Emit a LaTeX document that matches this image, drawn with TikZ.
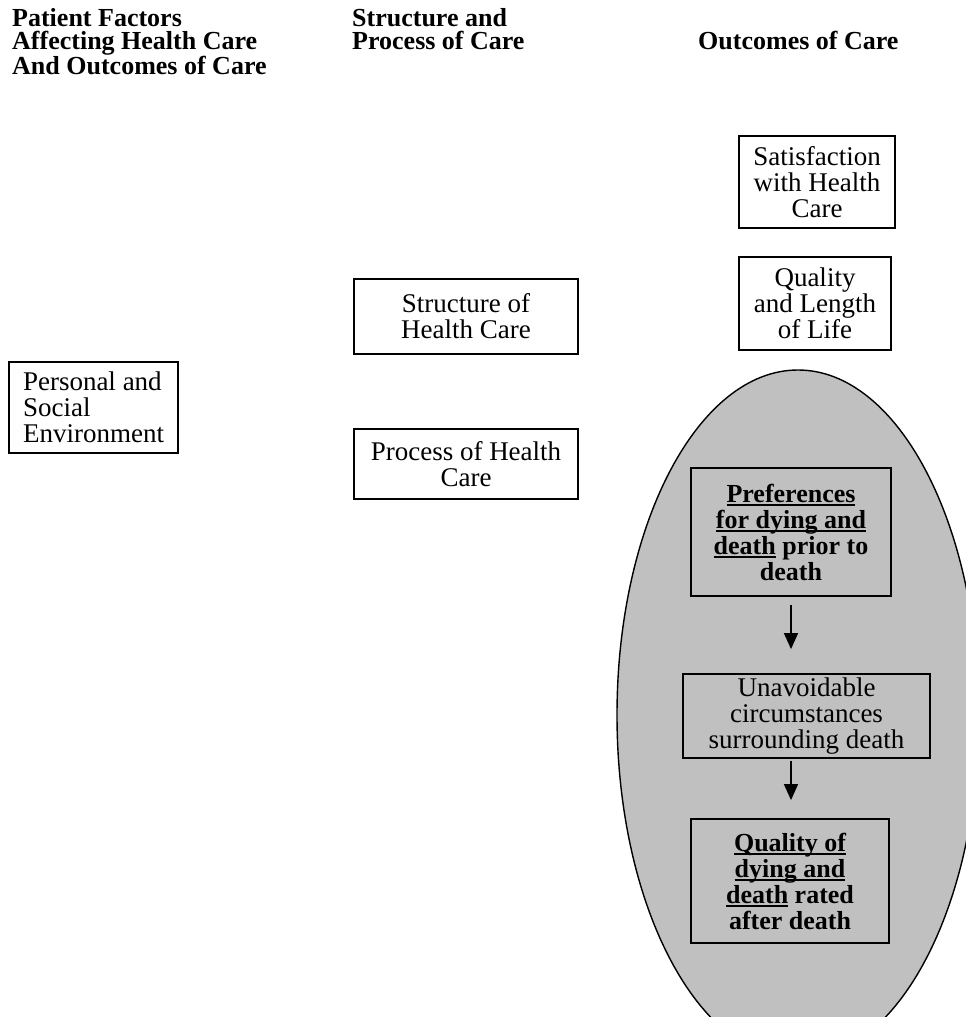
\documentclass[tikz,border=0pt]{standalone}
\usepackage{fontspec}
\setmainfont{Liberation Serif}
\usetikzlibrary{arrows.meta}
\definecolor{ellgray}{RGB}{192,192,192}
\newcommand\myul[1]{\setbox0\hbox{#1}\rlap{\rule[-3.5pt]{\wd0}{1.8pt}}\box0\relax}
\begin{document}
\begin{tikzpicture}[x=1pt,y=-1pt,
  box/.style={draw, line width=1.8pt, align=center, inner sep=0pt,
    font=\fontsize{27}{26}\selectfont},
  bbox/.style={box, font=\fontsize{26}{26}\selectfont\bfseries},
  head/.style={align=left, inner sep=0pt,
    font=\fontsize{26}{23.5}\selectfont\bfseries},
  flow/.style={line width=1.4pt, -{Triangle[length=16pt,width=14pt]}}
]
\useasboundingbox (0,0) rectangle (966,1017);
\clip (0,0) rectangle (966,1017);
\fill[white] (0,0) rectangle (966,1017);

% column headings
\node[head, anchor=north west] (h1) at (12,8) {Patient Factors\\Affecting Health Care\\And Outcomes of Care};
\node[head, anchor=north west] (h2) at (352,8) {Structure and\\Process of Care};
\node[head, anchor=base west] (h3) at (698,49.5) {Outcomes of Care};

% outcome ellipse
\draw[fill=ellgray, line width=1.4pt] (798,715) ellipse [x radius=181, y radius=345];

% boxes
\node[box, minimum width=156, minimum height=92] (sat) at (817,182) {Satisfaction\\with Health\\Care};
\node[box, minimum width=152, minimum height=93] (qol) at (815,303.5) {Quality\\and Length\\of Life};
\node[box, minimum width=224, minimum height=75] (str) at (466,316.5) {Structure of\\Health Care};
\node[box, minimum width=224, minimum height=70] (proc) at (466,464) {Process of Health\\Care};
\node[box, align=left, minimum width=169, minimum height=91] (pers) at (93.5,407.5) {Personal and\\Social\\Environment};

\node[bbox, minimum width=200, minimum height=128] (pref) at (791,532) {\myul{Preferences}\\\myul{for dying and}\\\myul{death} prior to\\death};
\node[box, minimum width=247, minimum height=84] (unav) at (806.5,716) {Unavoidable\\circumstances\\surrounding death};
\node[bbox, minimum width=198, minimum height=124] (qd) at (790,881) {\myul{Quality of}\\\myul{dying and}\\\myul{death} rated\\after death};

% connectors
\draw[flow, shorten <=8pt, shorten >=24pt] (pref.south) -- (pref.south |- unav.north);
\draw[flow, shorten <=2pt, shorten >=18pt] (pref.south |- unav.south) -- (pref.south |- qd.north);
\end{tikzpicture}
\end{document}
